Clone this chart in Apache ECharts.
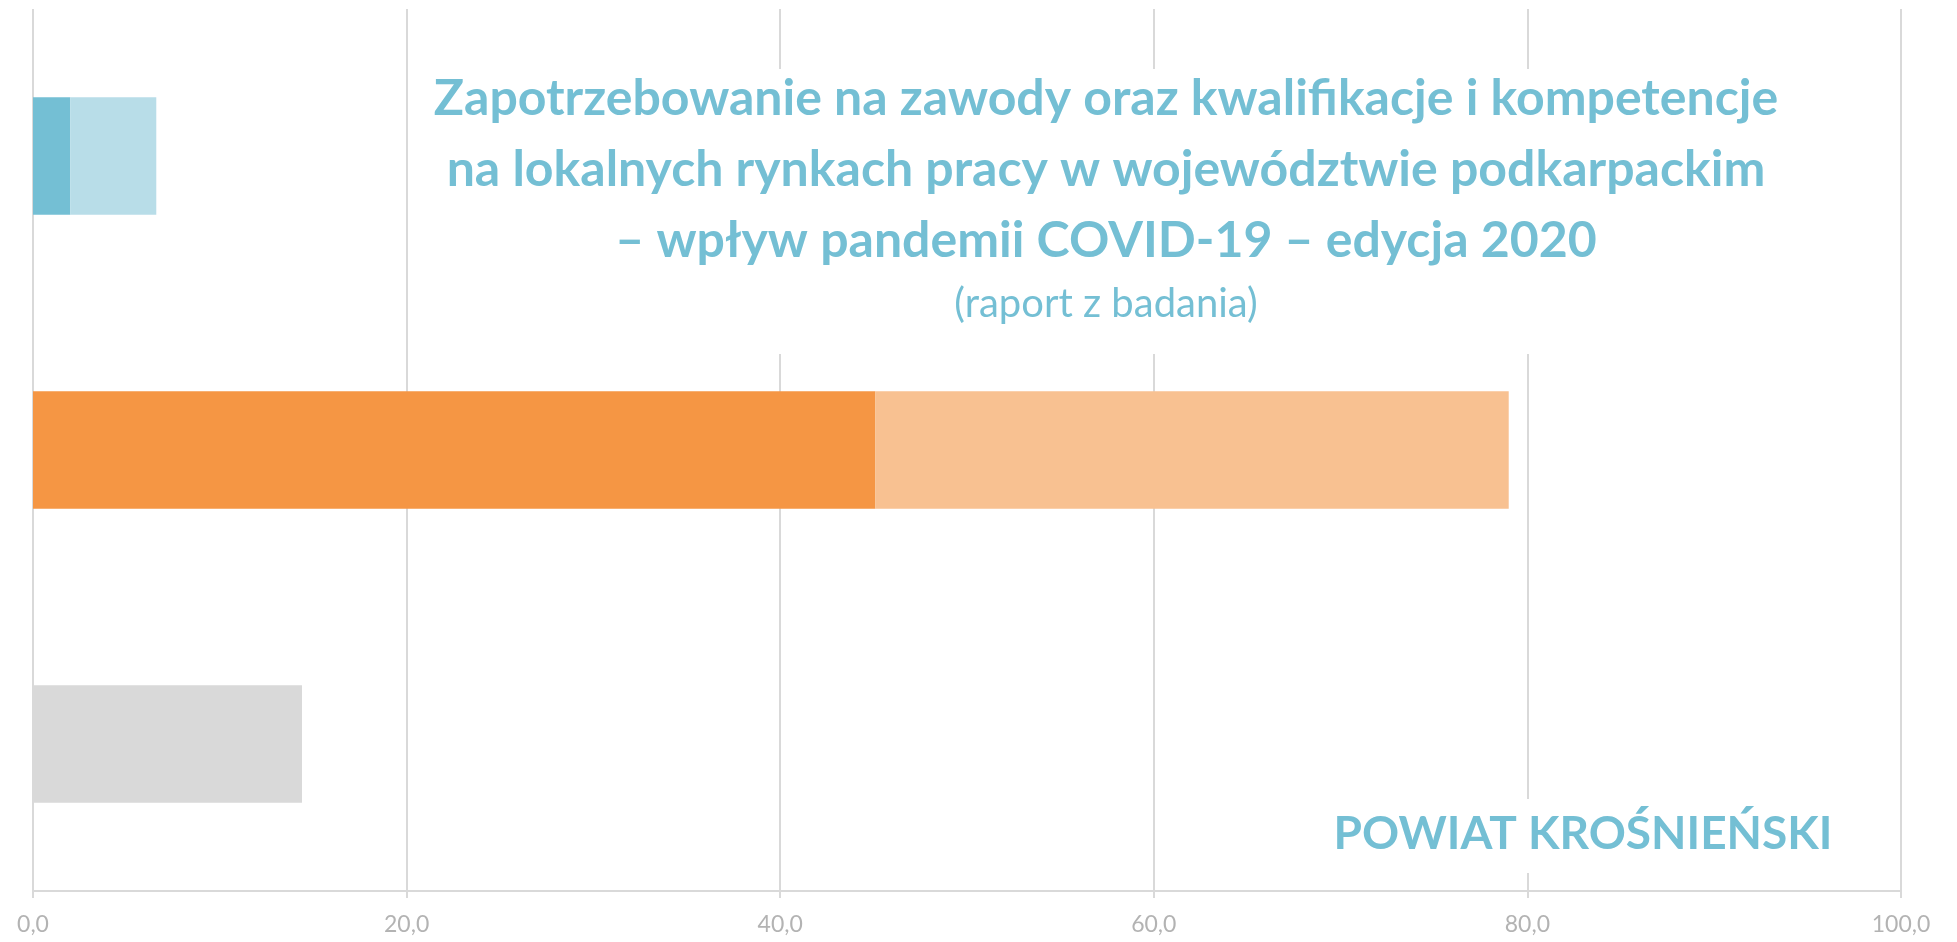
<!DOCTYPE html>
<html>
<head>
<meta charset="utf-8">
<script src="https://cdn.jsdelivr.net/npm/echarts@6/dist/echarts.min.js"></script>
<style>
html,body{margin:0;padding:0;background:#fff;}
#chart{width:1957px;height:942px;}
</style>
</head>
<body>
<div id="chart"></div>
<script>
// Data
const categories = ["kategoria 1", "kategoria 2", "kategoria 3"];
const darkValues = [2.0, 45.1, 14.4];
const lightValues = [4.6, 33.9, 0];
const darkColors = ["#74bfd4", "#f59644", "#d9d9d9"];
const lightColors = ["#b8dde8", "#f8c191", "#d9d9d9"];
const xTicks = [0, 20, 40, 60, 80, 100];

const titleLines = [
  "Zapotrzebowanie na zawody oraz kwalifikacje i kompetencje",
  "na lokalnych rynkach pracy w województwie podkarpackim",
  "– wpływ pandemii COVID-19 – edycja 2020"
];
const subtitle = "(raport z badania)";
const regionLabel = "POWIAT KROŚNIEŃSKI";

const FONT = "Lato, 'Open Sans', sans-serif";
const TEXT_COLOR = "#74bfd4";

const chart = echarts.init(document.getElementById('chart'), null, {renderer: 'canvas'});
chart.setOption({
  animation: false,
  backgroundColor: '#ffffff',
  grid: {left: 33, right: 56, top: 9, bottom: 51, containLabel: false},
  xAxis: {
    type: 'value',
    min: xTicks[0],
    max: xTicks[xTicks.length - 1],
    interval: 20,
    axisLine: {show: true, lineStyle: {color: '#d9d9d9', width: 2}},
    axisTick: {show: true, length: 7, lineStyle: {color: '#d9d9d9', width: 2}},
    splitLine: {show: true, lineStyle: {color: '#d9d9d9', width: 2}},
    axisLabel: {
      color: '#b3b3b3',
      fontFamily: FONT,
      fontSize: 23,
      margin: 22,
      formatter: v => v.toFixed(1).replace('.', ',')
    }
  },
  yAxis: {
    type: 'category',
    data: categories,
    inverse: true,
    axisLine: {show: false},
    axisTick: {show: false},
    axisLabel: {show: false},
    splitLine: {show: false}
  },
  series: [
    {
      type: 'bar',
      stack: 's',
      barCategoryGap: '60%',
      data: darkValues.map((v, i) => ({value: v, itemStyle: {color: darkColors[i]}}))
    },
    {
      type: 'bar',
      stack: 's',
      barCategoryGap: '60%',
      data: lightValues.map((v, i) => ({value: v, itemStyle: {color: lightColors[i]}}))
    }
  ],
  graphic: [
    {type: 'rect', z: 50, shape: {x: 420, y: 69, width: 1370, height: 285}, style: {fill: '#ffffff'}, silent: true},
    {type: 'rect', z: 50, shape: {x: 1320, y: 799, width: 525, height: 74}, style: {fill: '#ffffff'}, silent: true}
  ],
  title: [
    {
      text: titleLines.join('\n'),
      left: 1106,
      top: 63,
      textAlign: 'center',
      z: 100,
      padding: 0,
      textStyle: {color: TEXT_COLOR, fontFamily: FONT, fontWeight: 'bold', fontSize: 50, lineHeight: 71}
    },
    {
      text: subtitle,
      left: 1106,
      top: 284,
      textAlign: 'center',
      z: 100,
      padding: 0,
      textStyle: {color: TEXT_COLOR, fontFamily: FONT, fontWeight: 'normal', fontSize: 40, lineHeight: 40}
    },
    {
      text: regionLabel,
      left: 1583,
      top: 811,
      textAlign: 'center',
      z: 100,
      padding: 0,
      textStyle: {color: TEXT_COLOR, fontFamily: FONT, fontWeight: 'bold', fontSize: 46, lineHeight: 46}
    }
  ]
});
</script>
</body>
</html>
